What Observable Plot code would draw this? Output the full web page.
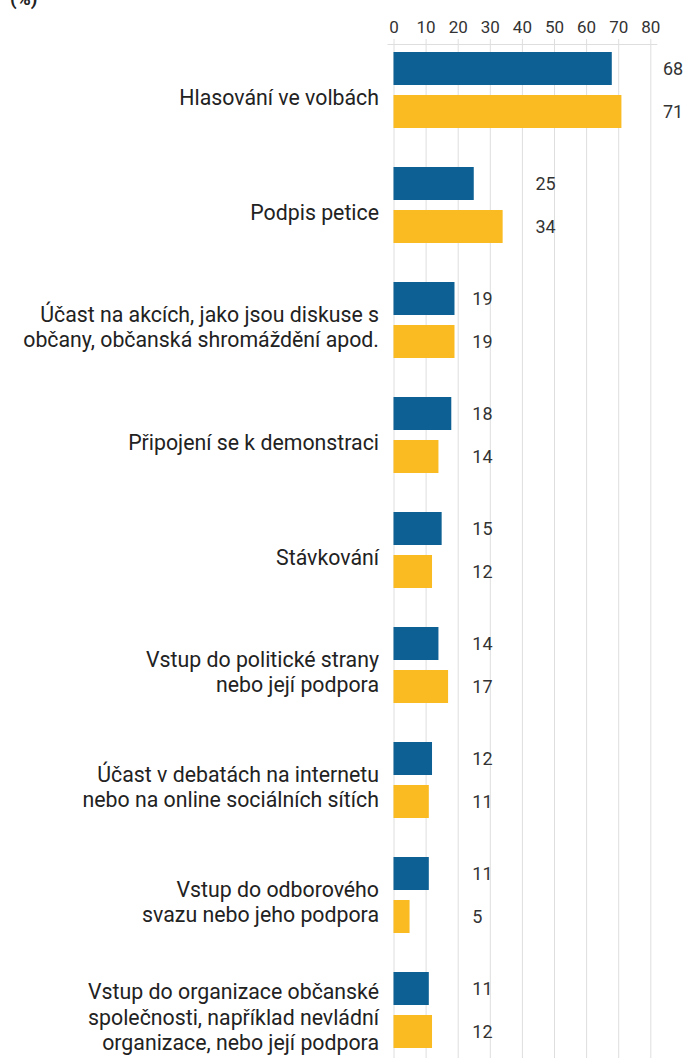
<!DOCTYPE html>
<html>
<head>
<meta charset="utf-8">
<script src="https://cdn.jsdelivr.net/npm/d3@7"></script>
<script src="https://cdn.jsdelivr.net/npm/@observablehq/plot@0.6"></script>
<style>
  html, body { margin: 0; padding: 0; background: #fff; overflow: hidden; }
  #wrap { position: relative; width: 686px; height: 1058px; }
  #unit { position: absolute; left: 10px; top: -13px; font: bold 19px Roboto, sans-serif; color: #222; }
  svg { display: block; }
</style>
</head>
<body>
<div id="wrap">
  <div id="unit">(%)</div>
  <div id="chart"></div>
</div>
<script>
const categories = [
  "Hlasování ve volbách",
  "Podpis petice",
  "Účast na akcích, jako jsou diskuse s\nobčany, občanská shromáždění apod.",
  "Připojení se k demonstraci",
  "Stávkování",
  "Vstup do politické strany\nnebo její podpora",
  "Účast v debatách na internetu\nnebo na online sociálních sítích",
  "Vstup do odborového\nsvazu nebo jeho podpora",
  "Vstup do organizace občanské\nspolečnosti, například nevládní\norganizace, nebo její podpora"
];
const seriesBlue = [68, 25, 19, 18, 15, 14, 12, 11, 11];
const seriesYellow = [71, 34, 19, 14, 12, 17, 11, 5, 12];
const xTicks = [0, 10, 20, 30, 40, 50, 60, 70, 80];

const BLUE = "#0d6093";
const YELLOW = "#f9bb21";

const data = categories.map((c, i) => ({cat: c, a: seriesBlue[i], b: seriesYellow[i]}));
const labelX = d => {
  const m = Math.max(d.a, d.b);
  return m < 25 ? 24.4 : 1.073 * m + 7.6;
};

const chart = Plot.plot({
  width: 686,
  height: 1058,
  marginTop: 44,
  marginLeft: 393.5,
  marginRight: 35.7,
  marginBottom: 0,
  style: {fontFamily: "Roboto, sans-serif", color: "#333", background: "#fff"},
  x: {domain: [0, 80], axis: null},
  y: {domain: categories, range: [32.5, 1067.5], paddingInner: 39 / 115, paddingOuter: 19.5 / 115, axis: null},
  marks: [
    Plot.ruleX(xTicks, {stroke: "#dedede", strokeWidth: 1}),
    Plot.axisX(xTicks, {anchor: "top", tickSize: 6, tickPadding: 6, stroke: "#dedede", fill: "#333", fontSize: 17, label: null}),
    Plot.frame({anchor: "top", stroke: "#dedede", insetLeft: -6, insetRight: -6}),
    Plot.barX(data, {x: "a", y: "cat", fill: BLUE, insetBottom: 43}),
    Plot.barX(data, {x: "b", y: "cat", fill: YELLOW, insetTop: 43}),
    Plot.text(data, {x: labelX, y: "cat", text: "a", textAnchor: "start", dy: -21.5, fontSize: 18, fill: "#333"}),
    Plot.text(data, {x: labelX, y: "cat", text: "b", textAnchor: "start", dy: 21.5, fontSize: 18, fill: "#333"}),
    Plot.text(categories, {x: () => 0, y: d => d, text: d => d, textAnchor: "end", dx: -15, dy: 6, fontSize: 21.3, lineHeight: 1.18, fill: "#222"})
  ]
});
document.getElementById("chart").appendChild(chart);
</script>
</body>
</html>
